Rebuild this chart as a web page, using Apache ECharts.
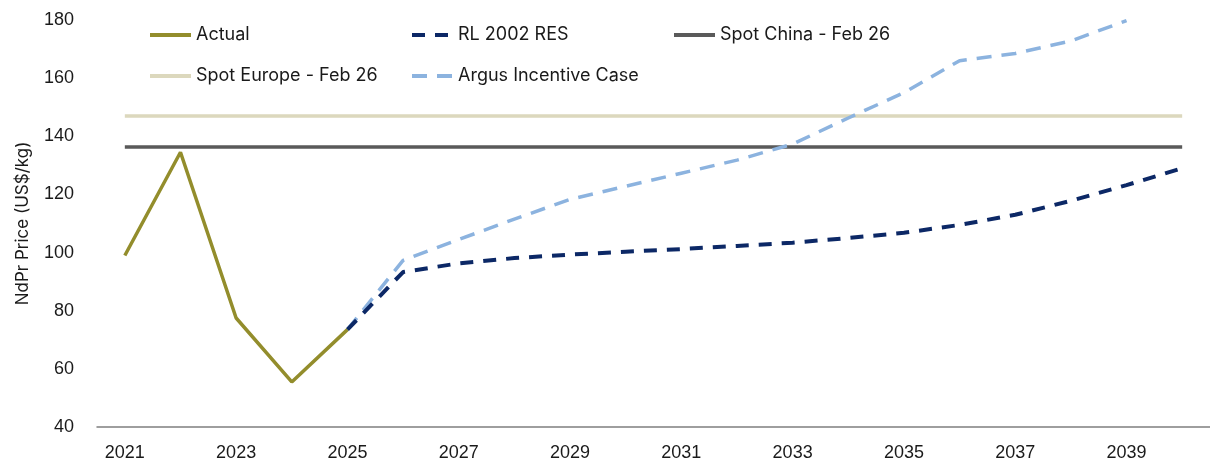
<!DOCTYPE html>
<html>
<head>
<meta charset="utf-8">
<script src="https://cdn.jsdelivr.net/npm/echarts@6/dist/echarts.min.js"></script>
<style>
html,body{margin:0;padding:0;background:#fff;}
#c{width:1210px;height:464px;}
</style>
</head>
<body>
<div id="c"></div>
<script>
var years = ['2021','2022','2023','2024','2025','2026','2027','2028','2029','2030','2031','2032','2033','2034','2035','2036','2037','2038','2039','2040'];
var actual = [99, 134.5, 77.5, 55.5, 73.5, null, null, null, null, null, null, null, null, null, null, null, null, null, null, null];
var rl2002 = [null, null, null, null, 73.5, 93.3, 96.3, 98.1, 99.3, 100.3, 101.2, 102.3, 103.4, 105, 106.8, 109.5, 113, 117.8, 123.2, 129];
var spotChina = [136.3, 136.3, 136.3, 136.3, 136.3, 136.3, 136.3, 136.3, 136.3, 136.3, 136.3, 136.3, 136.3, 136.3, 136.3, 136.3, 136.3, 136.3, 136.3, 136.3];
var spotEurope = [147, 147, 147, 147, 147, 147, 147, 147, 147, 147, 147, 147, 147, 147, 147, 147, 147, 147, 147, 147];
var argus = [null, null, null, null, 73.5, 97.3, 104.5, 111.5, 118.3, 122.8, 127.3, 131.8, 137.3, 146.3, 155, 166, 168.5, 172.8, 179.8, null];
var yTicks = [40, 60, 80, 100, 120, 140, 160, 180];

var C_ACTUAL = '#938d2c', C_RL = '#0c2866', C_CHINA = '#5a5a5a', C_EUROPE = '#dcd8bd', C_ARGUS = '#8cb3df';
var legendFont = {fontFamily: 'Inter', fontSize: 18, color: '#1a1a1a'};

function leg(name, left, top) {
  return {data: [name], left: left, top: top, itemWidth: 41, itemHeight: 14, itemGap: 0,
    itemStyle: {opacity: 0}, lineStyle: {width: 4},
    textStyle: legendFont, selectedMode: false, padding: 0};
}

var chart = echarts.init(document.getElementById('c'), null, {renderer: 'canvas'});
chart.setOption({
  animation: false,
  backgroundColor: '#ffffff',
  grid: {left: 97, top: 20, width: 1116, height: 407, containLabel: false},
  legend: [
    leg('Actual', 148, 26),
    leg('RL 2002 RES', 410, 26),
    leg('Spot China - Feb 26', 672, 26),
    leg('Spot Europe - Feb 26', 148, 67),
    leg('Argus Incentive Case', 410, 67)
  ],
  xAxis: {
    type: 'category', data: years, boundaryGap: true,
    axisLine: {show: true, lineStyle: {color: '#7f7f7f', width: 1.5}},
    axisTick: {show: false},
    axisLabel: {interval: 1, margin: 17, fontFamily: 'Liberation Sans', fontSize: 18, color: '#1a1a1a'},
    splitLine: {show: false}
  },
  yAxis: {
    type: 'value', min: yTicks[0], max: yTicks[yTicks.length - 1], interval: 20,
    axisLine: {show: false}, axisTick: {show: false}, splitLine: {show: false},
    axisLabel: {margin: 23, fontFamily: 'Liberation Sans', fontSize: 18, color: '#1a1a1a'},
    name: 'NdPr Price (US$/kg)', nameLocation: 'middle', nameGap: 66, nameRotate: 90,
    nameTextStyle: {fontFamily: 'Inter', fontSize: 17, color: '#1a1a1a'}
  },
  series: [
    {name: 'Spot Europe - Feb 26', type: 'line', data: spotEurope, symbol: 'none', color: C_EUROPE,
      lineStyle: {color: C_EUROPE, width: 3.5}},
    {name: 'Spot China - Feb 26', type: 'line', data: spotChina, symbol: 'none', color: C_CHINA,
      lineStyle: {color: C_CHINA, width: 3.5}},
    {name: 'Argus Incentive Case', type: 'line', data: argus, symbol: 'none', color: C_ARGUS,
      lineStyle: {color: C_ARGUS, width: 3.5, type: [15, 10]}},
    {name: 'RL 2002 RES', type: 'line', data: rl2002, symbol: 'none', color: C_RL,
      lineStyle: {color: C_RL, width: 4, type: [13, 10]}},
    {name: 'Actual', type: 'line', data: actual, symbol: 'none', color: C_ACTUAL,
      lineStyle: {color: C_ACTUAL, width: 3.5}}
  ]
});
</script>
</body>
</html>
